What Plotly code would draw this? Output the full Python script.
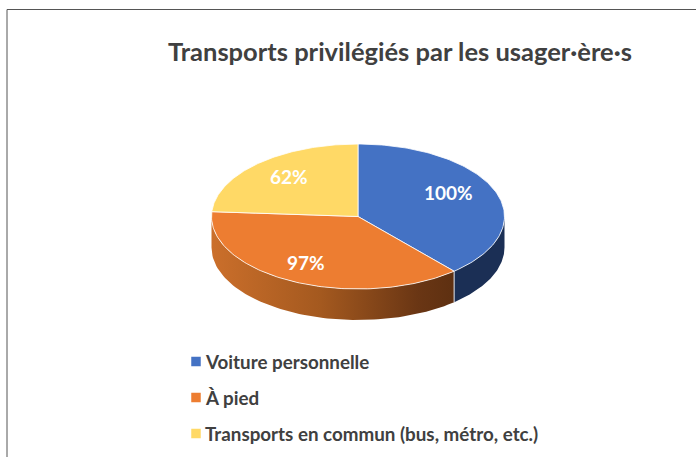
import numpy as np
import plotly.graph_objects as go

TITLE = "Transports privilégiés par les usager·ère·s"
categories = ["Voiture personnelle", "À pied", "Transports en commun (bus, métro, etc.)"]
values = [100, 97, 62]
labels = ["100%", "97%", "62%"]
top_colors = ["#4472C4", "#ED7D31", "#FFD966"]
label_angle_nudge = [-8, 3, 3]
label_radius = [0.70, 0.727, 0.73]

W, H = 696, 457
CX, CY, RX, RY, DEPTH = 358, 216.5, 146.5, 72.5, 31
FONT = "Lato, 'Open Sans', sans-serif"


def ex(t):
    return CX + RX * np.sin(np.radians(t))


def ey(t):
    return CY - RY * np.cos(np.radians(t))


shares = np.array(values) / sum(values) * 360
ends = np.cumsum(shares)
starts = ends - shares

fig = go.Figure()


def wall(a, b, **kw):
    t = np.linspace(a, b, 80)
    xs = np.r_[ex(t), ex(t[::-1])]
    ys = np.r_[ey(t), ey(t[::-1]) + DEPTH]
    fig.add_trace(go.Scatter(x=xs, y=ys, mode="lines", fill="toself", hoverinfo="skip",
                             showlegend=False, line=dict(width=0), **kw))


# side walls (only the front half of the disc is visible)
wall(90, ends[0], fillcolor="#1B2F55")
wall(ends[0], 270, fillcolor="#8A4A1C",
     fillgradient=dict(type="horizontal",
                       colorscale=[[0, "#CB6F2B"], [0.45, "#A4591F"], [0.85, "#6A3614"], [1, "#5E3011"]]))

# white seam on the wall where the two front slices meet
fig.add_trace(go.Scatter(x=[ex(ends[0])] * 2, y=[ey(ends[0]), ey(ends[0]) + DEPTH], mode="lines",
                         line=dict(color="#DDE3EC", width=1), hoverinfo="skip", showlegend=False))

# top face
for a, b, color, cat in zip(starts, ends, top_colors, categories):
    t = np.linspace(a, b, 120)
    fig.add_trace(go.Scatter(x=np.r_[CX, ex(t), CX], y=np.r_[CY, ey(t), CY], mode="lines",
                             fill="toself", fillcolor=color, line=dict(color="rgba(255,255,255,0.8)", width=1),
                             name=cat, hoverinfo="name", showlegend=False))

annotations = []
for a, b, text, nudge, r in zip(starts, ends, labels, label_angle_nudge, label_radius):
    m = (a + b) / 2 + nudge
    annotations.append(dict(x=CX + r * RX * np.sin(np.radians(m)), y=CY - r * RY * np.cos(np.radians(m)),
                            text=f"<b>{text}</b>", showarrow=False,
                            font=dict(family=FONT, size=19, color="white")))

annotations.append(dict(x=400, y=51, text=f"<b>{TITLE}</b>", showarrow=False,
                        font=dict(family=FONT, size=25.5, color="#404040")))

# legend
legend_x, legend_y0, legend_step = 196, 361.5, 36
fig.add_trace(go.Scatter(x=[legend_x] * 3, y=[legend_y0 + i * legend_step for i in range(3)],
                         mode="markers", hoverinfo="skip", showlegend=False,
                         marker=dict(symbol="square", size=9.5, color=top_colors)))
for i, cat in enumerate(categories):
    annotations.append(dict(x=legend_x + 7, y=legend_y0 + i * legend_step, text=f"<b>{cat}</b>",
                            xanchor="left", showarrow=False,
                            font=dict(family=FONT, size=18.8, color="#404040")))

frame = dict(type="path", path=f"M 7 {H} L 7 9.5 L {W} 9.5", line=dict(color="#555555", width=1))

fig.update_layout(width=W, height=H, margin=dict(l=0, r=0, t=0, b=0), autosize=False,
                  paper_bgcolor="white", plot_bgcolor="white", showlegend=False,
                  xaxis=dict(range=[0, W], visible=False, fixedrange=True),
                  yaxis=dict(range=[H, 0], visible=False, fixedrange=True),
                  annotations=annotations, shapes=[frame])

fig.write_html("out.html", config=dict(displayModeBar=False),
               post_script="document.body.style.margin='0';document.documentElement.style.overflow='hidden';")
